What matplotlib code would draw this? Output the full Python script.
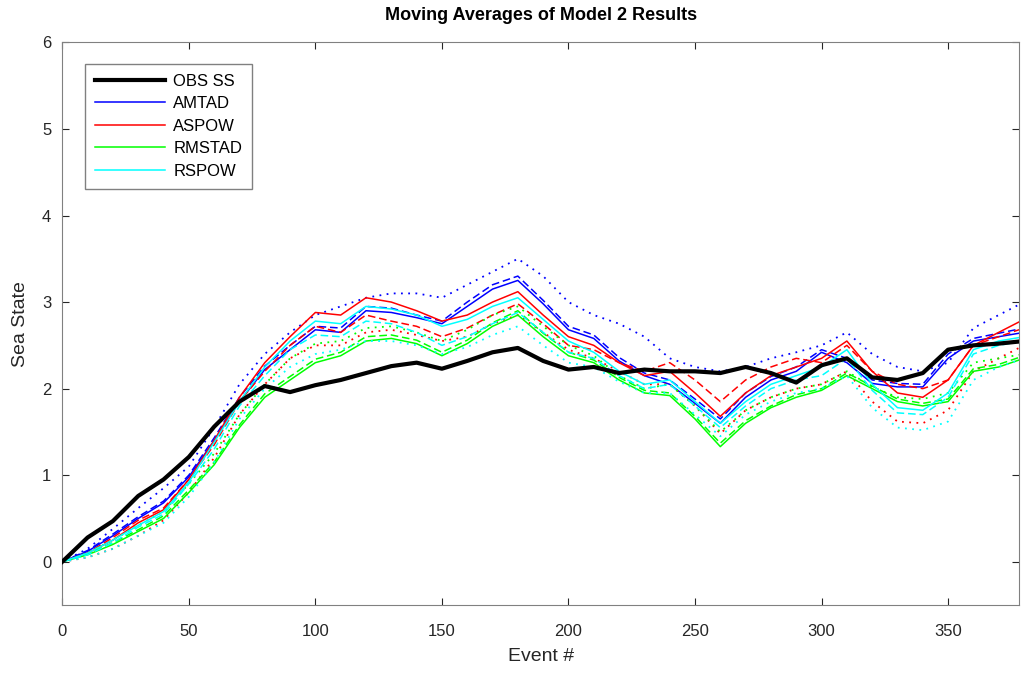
import matplotlib
matplotlib.use("Agg")
import matplotlib.pyplot as plt

plt.rcParams['font.family'] = ['Liberation Sans', 'DejaVu Sans']

# event index (every 10 events)
events = list(range(0, 390, 10))

obs_ss = [0.0, 0.28, 0.47, 0.76, 0.95, 1.21, 1.56, 1.85, 2.03, 1.96,
          2.04, 2.1, 2.18, 2.26, 2.3, 2.23, 2.32, 2.42, 2.47, 2.32,
          2.22, 2.25, 2.18, 2.22, 2.2, 2.2, 2.18, 2.25, 2.18, 2.07,
          2.27, 2.35, 2.13, 2.1, 2.18, 2.45, 2.5, 2.52, 2.55]

amtad = [0.0, 0.12, 0.3, 0.5, 0.68, 0.98, 1.4, 1.85, 2.22, 2.45,
         2.68, 2.65, 2.9, 2.88, 2.82, 2.75, 2.95, 3.15, 3.25, 2.98,
         2.68, 2.58, 2.32, 2.15, 2.05, 1.83, 1.6, 1.9, 2.1, 2.2,
         2.42, 2.3, 2.06, 2.02, 2.02, 2.35, 2.55, 2.6, 2.65]
amtad_b = [0.0, 0.13, 0.32, 0.52, 0.7, 1.0, 1.43, 1.9, 2.26, 2.5,
           2.72, 2.7, 2.95, 2.93, 2.85, 2.78, 3.0, 3.2, 3.3, 3.02,
           2.72, 2.62, 2.36, 2.18, 2.1, 1.88, 1.65, 1.95, 2.14, 2.25,
           2.45, 2.35, 2.1, 2.06, 2.05, 2.4, 2.58, 2.64, 2.7]
amtad_c = [0.0, 0.15, 0.38, 0.62, 0.85, 1.1, 1.55, 2.05, 2.4, 2.65,
           2.85, 2.95, 3.05, 3.1, 3.1, 3.05, 3.2, 3.35, 3.5, 3.3,
           3.0, 2.85, 2.75, 2.6, 2.35, 2.25, 2.2, 2.25, 2.35, 2.42,
           2.5, 2.65, 2.4, 2.25, 2.2, 2.3, 2.7, 2.85, 3.0]

aspow = [0.0, 0.1, 0.25, 0.45, 0.6, 0.95, 1.4, 1.9, 2.3, 2.6,
         2.88, 2.85, 3.05, 3.0, 2.9, 2.78, 2.85, 3.0, 3.12, 2.85,
         2.6, 2.5, 2.3, 2.15, 2.2, 1.95, 1.68, 1.95, 2.15, 2.25,
         2.35, 2.55, 2.2, 1.95, 1.9, 2.1, 2.5, 2.65, 2.8]
aspow_b = [0.0, 0.1, 0.28, 0.48, 0.62, 0.95, 1.35, 1.85, 2.2, 2.5,
           2.72, 2.65, 2.85, 2.78, 2.72, 2.6, 2.7, 2.85, 2.98, 2.75,
           2.5, 2.45, 2.3, 2.2, 2.3, 2.1, 1.85, 2.1, 2.25, 2.35,
           2.3, 2.5, 2.2, 2.05, 2.0, 2.1, 2.5, 2.6, 2.7]
aspow_c = [0.0, 0.05, 0.15, 0.3, 0.48, 0.8, 1.2, 1.7, 2.05, 2.35,
           2.5, 2.5, 2.65, 2.68, 2.62, 2.55, 2.6, 2.75, 2.85, 2.65,
           2.45, 2.35, 2.2, 2.05, 2.05, 1.8, 1.48, 1.75, 1.9, 2.0,
           2.05, 2.2, 1.85, 1.62, 1.6, 1.75, 2.2, 2.35, 2.5]

rmstad = [0.0, 0.08, 0.2, 0.35, 0.5, 0.8, 1.12, 1.55, 1.9, 2.1,
          2.3, 2.38, 2.55, 2.58, 2.52, 2.38, 2.52, 2.72, 2.85, 2.6,
          2.38, 2.3, 2.1, 1.95, 1.92, 1.65, 1.33, 1.6, 1.78, 1.9,
          1.98, 2.15, 2.0, 1.85, 1.8, 1.85, 2.2, 2.25, 2.35]
rmstad_b = [0.0, 0.09, 0.22, 0.37, 0.53, 0.83, 1.15, 1.58, 1.94, 2.14,
            2.34, 2.42, 2.6, 2.62, 2.56, 2.42, 2.56, 2.76, 2.9, 2.64,
            2.42, 2.33, 2.13, 1.98, 1.95, 1.68, 1.37, 1.63, 1.8, 1.93,
            2.0, 2.18, 2.03, 1.88, 1.83, 1.88, 2.23, 2.28, 2.38]
rmstad_c = [0.0, 0.1, 0.25, 0.42, 0.58, 0.9, 1.25, 1.7, 2.05, 2.35,
            2.52, 2.55, 2.7, 2.72, 2.65, 2.55, 2.68, 2.85, 2.95, 2.72,
            2.5, 2.38, 2.15, 2.0, 2.05, 1.8, 1.5, 1.75, 1.9, 2.0,
            2.05, 2.2, 2.02, 1.9, 1.88, 1.95, 2.3, 2.35, 2.4]

rspow = [0.0, 0.1, 0.25, 0.42, 0.58, 0.92, 1.38, 1.85, 2.25, 2.55,
         2.78, 2.75, 2.95, 2.92, 2.85, 2.72, 2.8, 2.95, 3.05, 2.8,
         2.55, 2.42, 2.2, 2.05, 2.1, 1.85, 1.6, 1.85, 2.05, 2.15,
         2.25, 2.45, 2.05, 1.78, 1.75, 1.95, 2.45, 2.55, 2.6]
rspow_b = [0.0, 0.08, 0.22, 0.4, 0.55, 0.9, 1.3, 1.8, 2.15, 2.45,
           2.62, 2.6, 2.78, 2.75, 2.65, 2.5, 2.6, 2.75, 2.88, 2.65,
           2.42, 2.35, 2.15, 2.0, 2.05, 1.8, 1.55, 1.8, 2.0, 2.1,
           2.15, 2.35, 1.98, 1.72, 1.7, 1.9, 2.4, 2.5, 2.55]
rspow_c = [0.0, 0.05, 0.15, 0.3, 0.45, 0.75, 1.15, 1.65, 2.0, 2.25,
           2.4, 2.45, 2.55, 2.55, 2.5, 2.4, 2.48, 2.62, 2.72, 2.5,
           2.3, 2.25, 2.08, 1.95, 1.95, 1.7, 1.45, 1.7, 1.85, 1.95,
           2.0, 2.15, 1.78, 1.55, 1.52, 1.62, 2.1, 2.25, 2.35]

fig = plt.figure(figsize=(10.21, 6.73), dpi=100)
ax = fig.add_axes([0.061, 0.101, 0.937, 0.836])

dot = (0, (1, 3))
dash = (0, (5, 2.5))

groups = [
    ('AMTAD', '#0000ff', amtad, amtad_b, amtad_c),
    ('ASPOW', '#ff0000', aspow, aspow_b, aspow_c),
    ('RMSTAD', '#00ff00', rmstad, rmstad_b, rmstad_c),
    ('RSPOW', '#00ffff', rspow, rspow_b, rspow_c),
]

handles = []
h, = ax.plot(events, obs_ss, color='k', lw=3, label='OBS SS', zorder=5)
handles.append(h)
for name, col, solid, dashed, dotted in groups:
    h, = ax.plot(events, solid, color=col, lw=1.1, label=name)
    ax.plot(events, dashed, color=col, lw=1.1, linestyle=dash)
    ax.plot(events, dotted, color=col, lw=1.3, linestyle=dot)
    handles.append(h)

ax.set_xlim(0, 378)
ax.set_ylim(-0.5, 6)
ax.set_xticks(range(0, 351, 50))
ax.set_yticks(range(0, 7))
ax.tick_params(direction='in', top=True, right=True, labelsize=12,
               colors='#262626', length=5, pad=14)
ax.tick_params(axis='y', pad=8)
for s in ax.spines.values():
    s.set_color('#808080')

ax.set_title('Moving Averages of Model 2 Results', fontsize=13,
             fontweight='bold', pad=16)
ax.set_xlabel('Event #', fontsize=14, color='#262626', labelpad=6)
ax.set_ylabel('Sea State', fontsize=14, color='#262626', labelpad=9)

leg = ax.legend(handles=handles, loc='upper left', fontsize=12, fancybox=False,
                edgecolor='#808080', framealpha=1, borderpad=0.6,
                handlelength=4.2, labelspacing=0.45, handletextpad=0.5,
                bbox_to_anchor=(0.015, 0.977))

fig.savefig('out.png', dpi=100)
